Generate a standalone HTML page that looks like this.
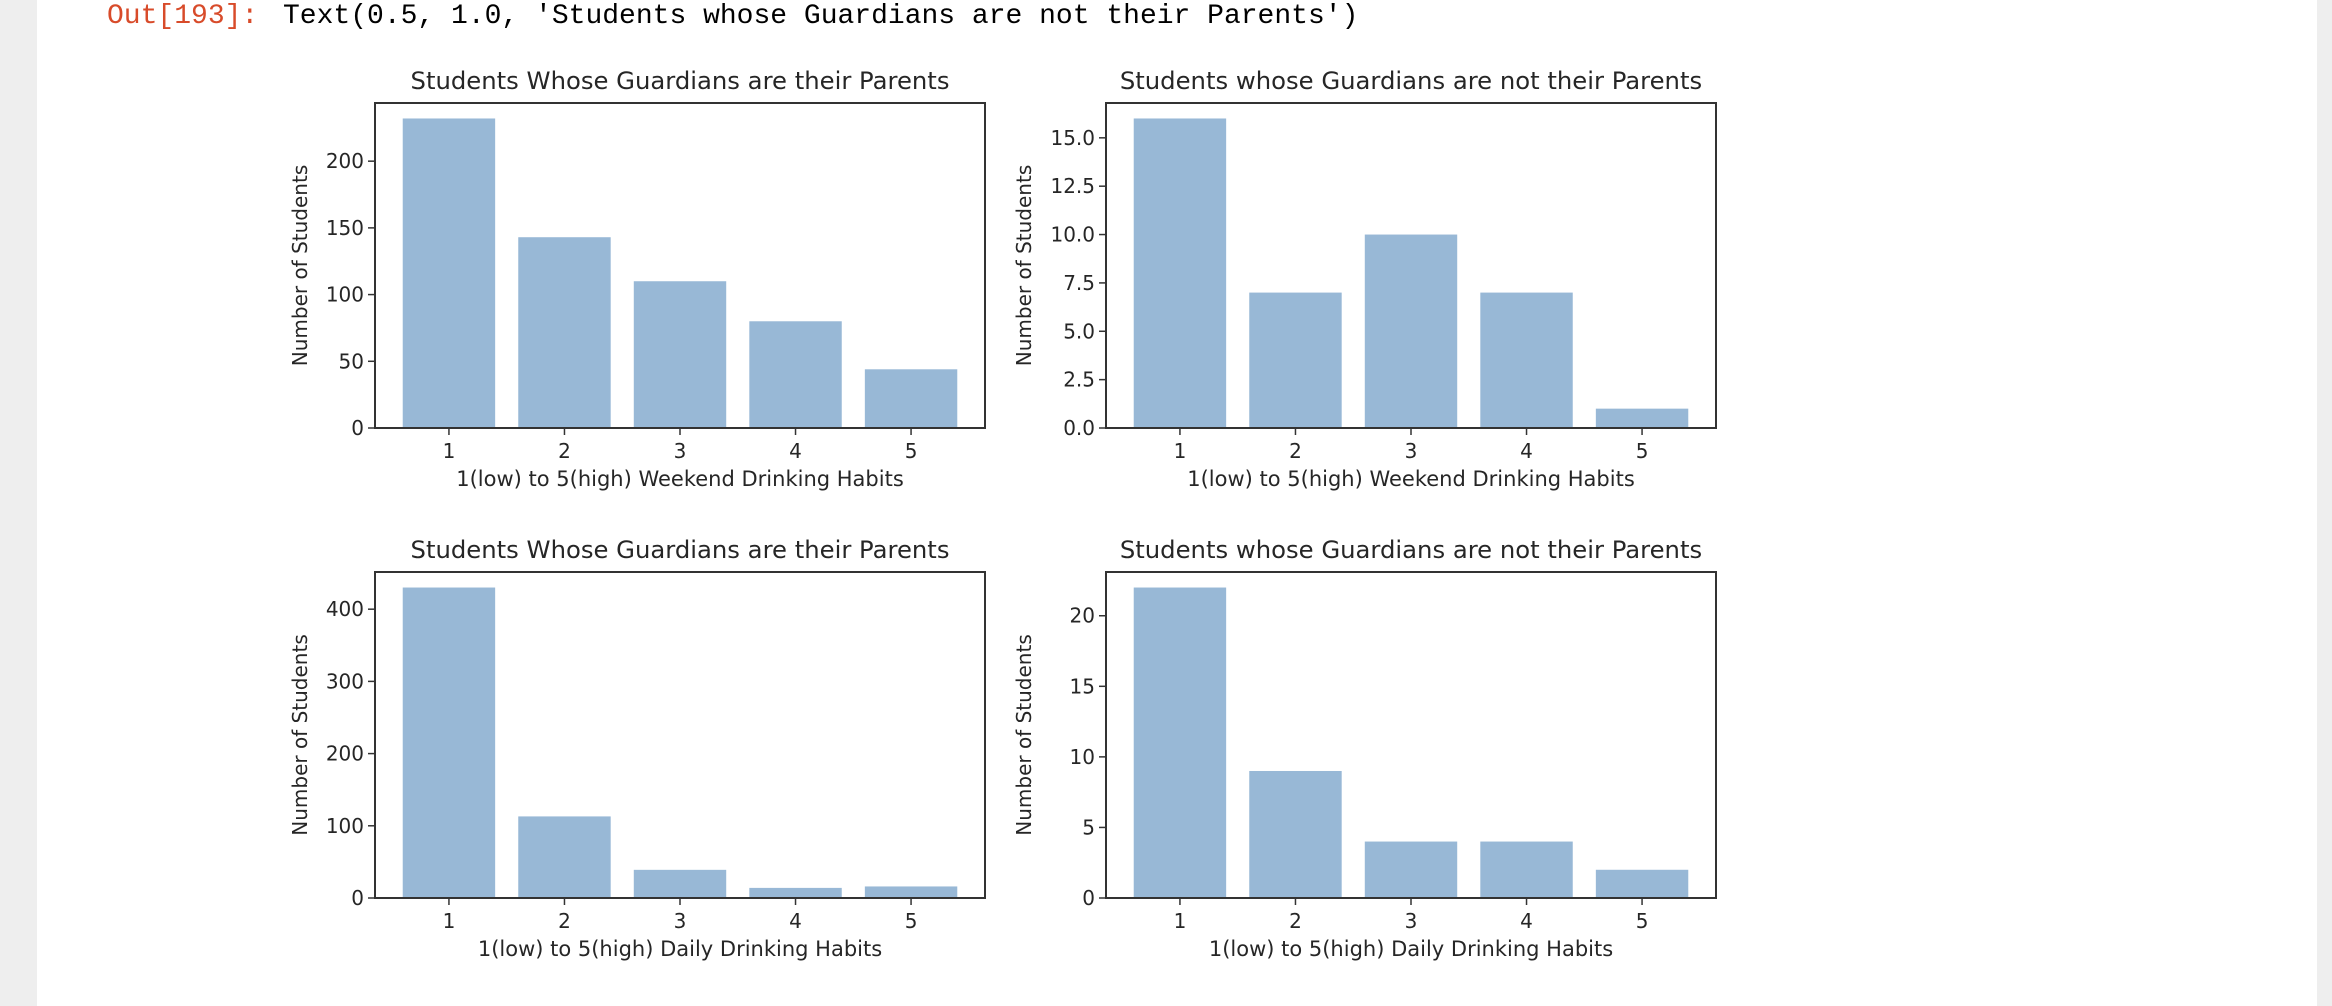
<!DOCTYPE html>
<html><head><meta charset="utf-8"><style>
html,body{margin:0;padding:0;background:#fff;width:2332px;height:1006px;overflow:hidden}
#leftbar{position:absolute;left:0;top:0;width:37px;height:1006px;background:#eeeeee}
#rightbar{position:absolute;left:2317px;top:0;width:15px;height:1006px;background:#eeeeee}
.hdr{position:absolute;top:0;font-family:"Liberation Mono",monospace;font-size:28px;line-height:1;white-space:pre}
svg{position:absolute;left:0;top:0}
svg text{font-family:"DejaVu Sans","Liberation Sans",sans-serif;fill:#262626}
</style></head><body>
<div id="leftbar"></div>
<div id="rightbar"></div>
<div class="hdr" style="left:107px;top:3px;color:#d84b2a">Out[193]:</div>
<div class="hdr" style="left:283px;top:3px;color:#000">Text(0.5, 1.0, 'Students whose Guardians are not their Parents')</div>
<svg id="fig" width="2332" height="1006"></svg>
<script>
const categories = [1, 2, 3, 4, 5];
const weekendParents = [232, 143, 110, 80, 44];
const weekendNonParents = [16, 7, 10, 7, 1];
const dailyParents = [430, 113, 39, 14, 16];
const dailyNonParents = [22, 9, 4, 4, 2];
const ticksA = [0, 50, 100, 150, 200];
const tickLabelsA = ['0', '50', '100', '150', '200'];
const ticksB = [0, 2.5, 5, 7.5, 10, 12.5, 15];
const tickLabelsB = ['0.0', '2.5', '5.0', '7.5', '10.0', '12.5', '15.0'];
const ticksC = [0, 100, 200, 300, 400];
const tickLabelsC = ['0', '100', '200', '300', '400'];
const ticksD = [0, 5, 10, 15, 20];
const tickLabelsD = ['0', '5', '10', '15', '20'];

const NS = 'http://www.w3.org/2000/svg';
const svg = document.getElementById('fig');
function mk(tag, attrs, parent) {
  const e = document.createElementNS(NS, tag);
  for (const k in attrs) e.setAttribute(k, attrs[k]);
  (parent || svg).appendChild(e);
  return e;
}
function chart(cfg) {
  const g = mk('g', {});
  
  
  const L = cfg.x, T = cfg.y, W = 610, H = cfg.h;
  const xmin = 0.36, xmax = 5.64;
  const maxV = Math.max(...cfg.values) * 1.05;
  const sx = v => L + (v - xmin) / (xmax - xmin) * W;
  const sy = v => T + H - v / maxV * H;
  cfg.values.forEach((v, i) => {
    const b = mk('rect', {x: sx(categories[i] - 0.4), y: sy(v), width: sx(categories[i] + 0.4) - sx(categories[i] - 0.4), height: sy(0) - sy(v), fill: '#98b8d6'}, g);
    
    
  });
  const frame = mk('rect', {x: L, y: T, width: W, height: H, fill: 'none', stroke: '#333', 'stroke-width': 2}, g);
  
  
  categories.forEach(c => {
    mk('line', {x1: sx(c), x2: sx(c), y1: T + H, y2: T + H + 7, stroke: '#333', 'stroke-width': 1.5}, g);
    const t = mk('text', {x: sx(c), y: T + H + 30, 'text-anchor': 'middle', 'font-size': 20}, g);
    t.textContent = c;
    
    
  });
  cfg.ticks.forEach((v, i) => {
    mk('line', {x1: L - 7, x2: L, y1: sy(v), y2: sy(v), stroke: '#333', 'stroke-width': 1.5}, g);
    const t = mk('text', {x: L - 11, y: sy(v) + 7, 'text-anchor': 'end', 'font-size': 20}, g);
    t.textContent = cfg.labels[i];
    
    
  });
  const ti = mk('text', {x: L + W / 2, y: T - 14, 'text-anchor': 'middle', 'font-size': 24.3}, g);
  ti.textContent = cfg.title;
  
  
  const xl = mk('text', {x: L + W / 2, y: T + H + 58, 'text-anchor': 'middle', 'font-size': 21}, g);
  xl.textContent = cfg.xlabel;
  
  
  const yx = cfg.ylx, yy = T + H / 2;
  const yl = mk('text', {x: yx, y: yy, 'text-anchor': 'middle', 'font-size': 20, transform: 'rotate(-90 ' + yx + ' ' + yy + ')'}, g);
  yl.textContent = 'Number of Students';
  
  
}
chart({name: 'chart-weekend-parents', x: 375, y: 103, h: 325, values: weekendParents, ticks: ticksA, labels: tickLabelsA, title: 'Students Whose Guardians are their Parents', xlabel: '1(low) to 5(high) Weekend Drinking Habits', ylx: 307});
chart({name: 'chart-weekend-nonparents', x: 1106, y: 103, h: 325, values: weekendNonParents, ticks: ticksB, labels: tickLabelsB, title: 'Students whose Guardians are not their Parents', xlabel: '1(low) to 5(high) Weekend Drinking Habits', ylx: 1031});
chart({name: 'chart-daily-parents', x: 375, y: 572, h: 326, values: dailyParents, ticks: ticksC, labels: tickLabelsC, title: 'Students Whose Guardians are their Parents', xlabel: '1(low) to 5(high) Daily Drinking Habits', ylx: 307});
chart({name: 'chart-daily-nonparents', x: 1106, y: 572, h: 326, values: dailyNonParents, ticks: ticksD, labels: tickLabelsD, title: 'Students whose Guardians are not their Parents', xlabel: '1(low) to 5(high) Daily Drinking Habits', ylx: 1031});
</script>
</body></html>
